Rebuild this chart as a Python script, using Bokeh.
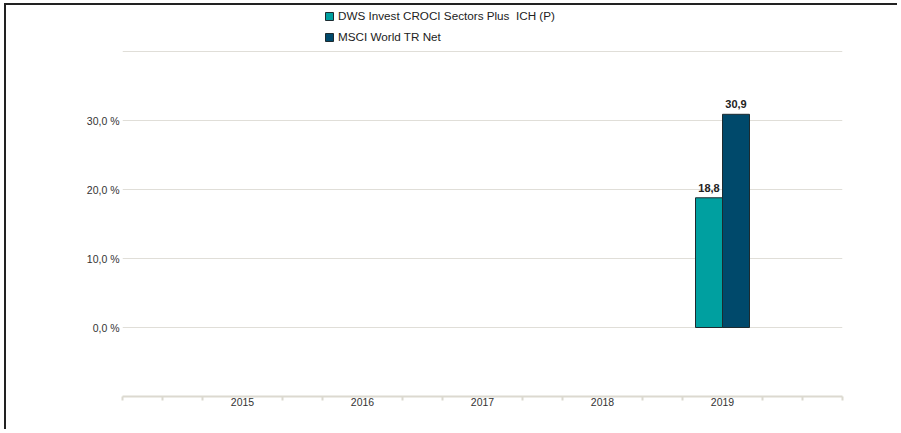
from bokeh.plotting import figure
from bokeh.models import (ColumnDataSource, FixedTicker, Legend, LegendItem, Range1d)
from bokeh.core.properties import value
from bokeh.embed import file_html
from bokeh.resources import INLINE

# ---- data ----
years = [2015, 2016, 2017, 2018, 2019]
year_labels = ["2015", "2016", "2017", "2018", "2019"]
fund_name = "DWS Invest CROCI Sectors Plus  ICH (P)"
index_name = "MSCI World TR Net"
fund_values = [None, None, None, None, 18.8]
index_values = [None, None, None, None, 30.9]
y_ticks = [0, 10, 20, 30]
grid_ticks = [0, 10, 20, 30, 40]

FUND_COLOR = "#00a0a0"
INDEX_COLOR = "#00496b"
FONT = "Liberation Sans"
BAR_W = 0.225

def fmt(v):
    return f"{v:.1f}".replace(".", ",")

fx = [y for y, v in zip(years, fund_values) if v is not None]
fv = [v for v in fund_values if v is not None]
ix = [y for y, v in zip(years, index_values) if v is not None]
iv = [v for v in index_values if v is not None]

src_f = ColumnDataSource(dict(x=[x - BAR_W / 2 for x in fx], top=fv, lab=[fmt(v) for v in fv]))
src_i = ColumnDataSource(dict(x=[x + BAR_W / 2 for x in ix], top=iv, lab=[fmt(v) for v in iv]))

# frame extends above the top gridline so that the legend sits inside it
p = figure(width=893, height=426, output_backend="svg", toolbar_location=None,
           x_range=Range1d(years[0] - 1, years[-1] + 1), y_range=Range1d(-10, 46.67),
           min_border_left=116, min_border_right=57, min_border_top=0, min_border_bottom=35)
p.outline_line_color = None
p.background_fill_color = "white"
p.border_fill_color = "white"

rf = p.vbar(x="x", top="top", bottom=0, width=BAR_W, source=src_f,
            fill_color=FUND_COLOR, line_color="#1d2b30", line_width=1)
ri = p.vbar(x="x", top="top", bottom=0, width=BAR_W, source=src_i,
            fill_color=INDEX_COLOR, line_color="#1d2b30", line_width=1)

for s in (src_f, src_i):
    p.text(x="x", y="top", text="lab", source=s, text_align="center",
           text_baseline="bottom", y_offset=-6, text_font=value(FONT),
           text_font_size="11px", text_font_style="bold", text_color="#222222")

# y axis
p.yaxis.ticker = FixedTicker(ticks=y_ticks)
p.yaxis.major_label_overrides = {t: fmt(t) + " %" for t in y_ticks}
p.yaxis.axis_line_color = None
p.yaxis.major_tick_line_color = None
p.yaxis.major_tick_out = 0
p.yaxis.major_tick_in = 0
p.yaxis.minor_tick_line_color = None
p.yaxis.major_label_standoff = 3
p.yaxis.major_label_text_font = FONT
p.yaxis.major_label_text_font_size = "10.5px"
p.yaxis.major_label_text_color = "#333333"

p.ygrid.ticker = FixedTicker(ticks=grid_ticks)
p.ygrid.grid_line_color = "#e0ded8"
p.ygrid.grid_line_width = 1
p.xgrid.grid_line_color = None

# x axis: small ticks every third of a year, none under the year labels
minor = [years[0] - 1 + k / 3 for k in range(3 * (len(years) + 1) + 1)
         if not (k % 3 == 0 and 0 < k // 3 <= len(years))]
p.xaxis.ticker = FixedTicker(ticks=years, minor_ticks=minor)
p.xaxis.major_label_overrides = {y: l for y, l in zip(years, year_labels)}
p.xaxis.axis_line_color = "#dcd9d0"
p.xaxis.axis_line_width = 2
p.xaxis.major_tick_line_color = None
p.xaxis.major_tick_out = 0
p.xaxis.major_tick_in = 0
p.xaxis.minor_tick_line_color = "#dcd9d0"
p.xaxis.minor_tick_line_width = 2
p.xaxis.minor_tick_in = 0
p.xaxis.minor_tick_out = 4
p.xaxis.major_label_standoff = -3
p.xaxis.major_label_text_font = FONT
p.xaxis.major_label_text_font_size = "10.5px"
p.xaxis.major_label_text_color = "#333333"

legend = Legend(items=[LegendItem(label=fund_name, renderers=[rf]),
                       LegendItem(label=index_name, renderers=[ri])],
                location=(202, 353), orientation="vertical",
                glyph_width=10, glyph_height=10, label_height=13, spacing=8,
                padding=0, margin=0, label_standoff=4,
                label_text_font=FONT, label_text_font_size="11.7px",
                label_text_color="#222222", border_line_color=None,
                background_fill_alpha=0)
p.add_layout(legend, "center")

# thin scan-frame lines at the top and left of the page
p.styles = {"box-shadow": "-2px -2px 0 0 #222222",
            "position": "relative", "top": "5px", "left": "6px"}

open("out.html", "w").write(file_html(p, INLINE))
